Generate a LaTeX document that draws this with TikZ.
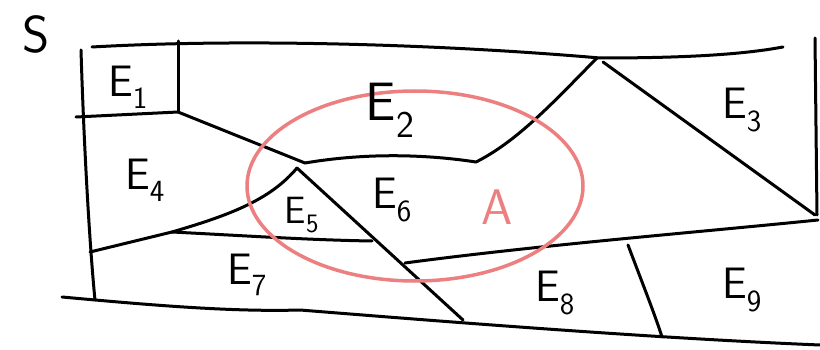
\documentclass[tikz,border=0pt]{standalone}
\usepackage{tikz}
\definecolor{ink}{RGB}{0,0,0}
\definecolor{setred}{RGB}{236,128,128}

\begin{document}
\begin{tikzpicture}[
    x=1pt, y=-1pt,
    every node/.style={font=\fontsize{44}{46}\selectfont\sffamily},
    border/.style={draw=ink, line width=3pt, line cap=round, line join=round},
    region/.style={inner sep=0pt, text=ink},
    setA/.style={draw=setred, line width=3.5pt},
    setlabel/.style={inner sep=0pt, text=setred, font=\fontsize{50}{52}\selectfont\sffamily}
  ]
    \useasboundingbox (0,0) rectangle (820,350);

    % outer boundary of S
    \draw[border] (92,47) .. controls (250,38) and (450,45) .. (600,58)
      .. controls (680,58) and (740,55) .. (783,47);
    \draw[border] (815,38) -- (817,215);
    \draw[border] (81,50) .. controls (84,150) and (90,250) .. (95,300);
    \draw[border] (62,297) .. controls (150,305) and (230,312) .. (300,310)
      .. controls (450,322) and (650,338) .. (820,345);

    % inner boundaries
    \draw[border] (178,41) -- (178,112);
    \draw[border] (76,117) -- (178,112) -- (305,163);
    \draw[border] (305,163) .. controls (370,152) and (430,155) .. (476,162)
      .. controls (520,140) and (560,95) .. (597,58);
    \draw[border] (603,62) -- (815,215);
    \draw[border] (405,263) .. controls (540,245) and (700,232) .. (818,220);
    \draw[border] (628,245) .. controls (645,290) and (655,315) .. (662,337);
    \draw[border] (297,168) -- (463,320);
    \draw[border] (90,252) -- (172,232);
    \draw[border] (172,232) .. controls (230,215) and (270,200) .. (297,168);
    \draw[border] (172,232) .. controls (250,236) and (310,240) .. (372,241);

    % the set A
    \draw[setA] (415,186) ellipse [x radius=168, y radius=95];

    % labels
    \node (s) at (36,34) {\fontsize{52}{54}\selectfont S};
    \node[region] (e1) at (128,87) {E\textsubscript{1}};
    \node[region, font=\fontsize{54}{56}\selectfont\sffamily] (e2) at (390,110) {E\textsubscript{2}};
    \node[region] (e3) at (742,110) {E\textsubscript{3}};
    \node[region] (e4) at (145,180) {E\textsubscript{4}};
    \node[region, font=\fontsize{38}{40}\selectfont\sffamily] (e5) at (302,215) {E\textsubscript{5}};
    \node[region] (e6) at (392,200) {E\textsubscript{6}};
    \node[region] (e7) at (247,275) {E\textsubscript{7}};
    \node[region] (e8) at (555,293) {E\textsubscript{8}};
    \node[region] (e9) at (742,290) {E\textsubscript{9}};
    \node[setlabel] (a) at (497,207) {A};
\end{tikzpicture}
\end{document}
